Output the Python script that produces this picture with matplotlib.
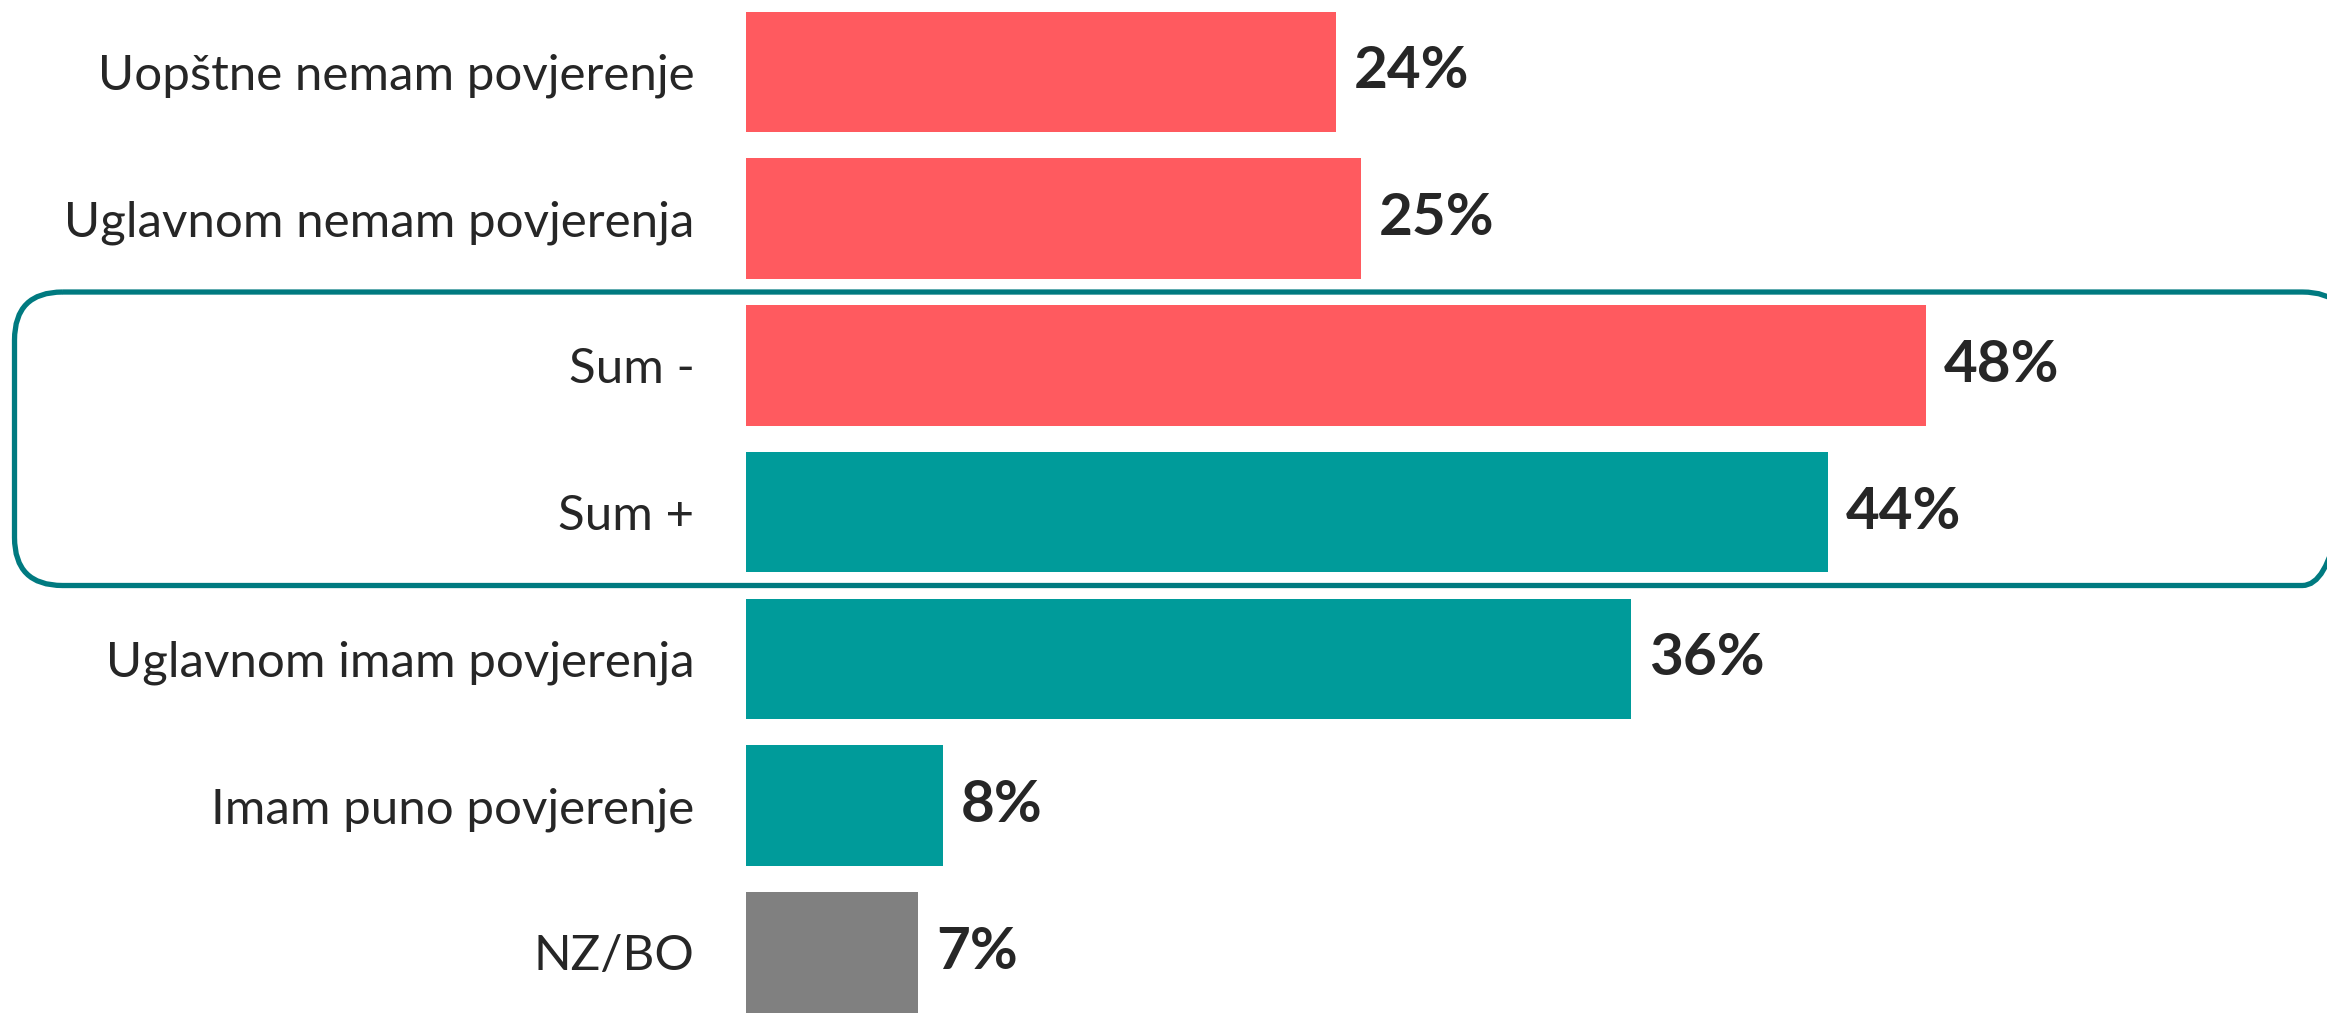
import matplotlib.pyplot as plt
from matplotlib.patches import FancyBboxPatch

# podaci
kategorije = ["Uopštne nemam povjerenje", "Uglavnom nemam povjerenja", "Sum -", "Sum +",
              "Uglavnom imam povjerenja", "Imam puno povjerenje", "NZ/BO"]
vrijednosti = [24, 25, 48, 44, 36, 8, 7]
boje = ["#FF5A5F", "#FF5A5F", "#FF5A5F", "#009B9A", "#009B9A", "#009B9A", "#808080"]

fig = plt.figure(figsize=(23.27, 10.14), dpi=100)
ax = fig.add_axes([746 / 2327, 0, 1 - 746 / 2327, 1])

y = list(range(len(kategorije)))
ax.barh(y, vrijednosti, height=0.82, color=boje)

ax.set_xlim(0, 64.3)
ax.set_ylim(6.42, -0.49)

ax.set_yticks(y)
ax.set_yticklabels(kategorije, fontsize=35.5, color="#262626", family="Lato")
ax.tick_params(axis="y", length=0, pad=37)
ax.set_xticks([])
for s in ax.spines.values():
    s.set_visible(False)

for yi, v in zip(y, vrijednosti):
    ax.annotate(f"{v}%", (v, yi), xytext=(13, 0), textcoords="offset points",
                va="center", ha="left", fontsize=42, fontweight="bold",
                color="#262626", family="Lato")

# okvir oko Sum - / Sum +
box = FancyBboxPatch((-29.75, 1.5), 95.0, 2.0,
                     boxstyle="round,pad=0,rounding_size=1.95",
                     mutation_aspect=0.1677, fill=False,
                     edgecolor="#007A80", linewidth=3.8, clip_on=False)
ax.add_patch(box)

fig.savefig("out.png", dpi=100)
